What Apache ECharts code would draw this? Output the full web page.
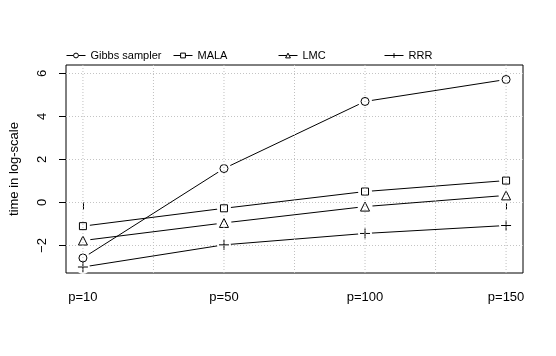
<!DOCTYPE html>
<html>
<head>
<meta charset="utf-8">
<script src="https://cdn.jsdelivr.net/npm/echarts@6/dist/echarts.min.js"></script>
<style>
  html, body { margin: 0; padding: 0; background: #fff; }
  #main { width: 556px; height: 356px; }
</style>
</head>
<body>
<div id="main"></div>
<script>
// data
var categories = ['p=10', 'p=50', 'p=100', 'p=150'];
var gibbs = [-2.58, 1.58, 4.70, 5.72];
var mala = [-1.10, -0.27, 0.51, 1.02];
var lmc = [-1.77, -0.95, -0.19, 0.33];
var rrr = [-3.00, -1.97, -1.44, -1.07];
var yTicks = [-2, 0, 2, 4, 6];
var xGridLines = [1, 1.5, 2, 2.5, 3, 3.5, 4];

var FONT = 'Liberation Sans';
var X_MIN = 0.88, X_MAX = 4.12, Y_MIN = -3.279, Y_MAX = 6.395;
var plusPath = 'path://M0,5L10,5M5,0L5,10';

var methods = [
    { name: 'Gibbs sampler', values: gibbs, symbol: 'circle', size: 8, gap: 14, left: 66 },
    { name: 'MALA', values: mala, symbol: 'rect', size: 7, gap: 14, left: 173 },
    { name: 'LMC', values: lmc, symbol: 'triangle', size: 9, gap: 15, left: 278 },
    { name: 'RRR', values: rrr, symbol: plusPath, size: 10, gap: 14, left: 384 }
];

function toPoints(values) {
    return categories.map(function (c, i) { return [i + 1, values[i]]; });
}

var series = [];
// dotted grid like R's grid(), drawn last as grid() is
xGridLines.forEach(function (v) {
    series.push({
        type: 'line', silent: true, symbol: 'none', z: 5,
        data: [[v, Y_MIN], [v, Y_MAX]],
        lineStyle: { color: '#c0c0c0', type: [1, 2], width: 1 }
    });
});
yTicks.forEach(function (v) {
    series.push({
        type: 'line', silent: true, symbol: 'none', z: 1,
        data: [[X_MIN, v], [X_MAX, v]],
        lineStyle: { color: '#c4c4c4', type: [1, 2], width: 1 }
    });
});
// lines (also used by the legend)
methods.forEach(function (m) {
    series.push({
        name: m.name,
        type: 'line',
        data: toPoints(m.values),
        symbol: m.symbol,
        symbolSize: m.size,
        lineStyle: { color: '#000', width: 1 },
        itemStyle: { color: '#fff', borderColor: '#000', borderWidth: 1 },
        z: 2,
        silent: true
    });
});
// white gaps round the points (type "b")
methods.forEach(function (m) {
    series.push({
        name: m.name + ' gap',
        type: 'scatter',
        data: toPoints(m.values),
        symbol: 'circle',
        symbolSize: m.gap,
        itemStyle: { color: '#ffffff', opacity: 1 },
        z: 3,
        silent: true
    });
});
// markers
methods.forEach(function (m) {
    series.push({
        name: m.name + ' pt',
        type: 'scatter',
        data: toPoints(m.values),
        symbol: m.symbol,
        symbolSize: m.size,
        itemStyle: { color: '#fff', opacity: 1, borderColor: '#000', borderWidth: 1 },
        z: 4,
        silent: true
    });
});

var chart = echarts.init(document.getElementById('main'));
chart.setOption({
    animation: false,
    textStyle: { fontFamily: FONT, color: '#000' },
    grid: {
        left: 65, right: 33, top: 65, bottom: 83,
        show: true, borderColor: '#000', borderWidth: 1, backgroundColor: 'transparent'
    },
    legend: methods.map(function (m) {
        return {
            data: [m.name],
            left: m.left,
            top: 50,
            itemWidth: 19,
            itemHeight: 6,
            selectedMode: false,
            padding: 0,
            lineStyle: { width: 1, color: '#000' },
            itemStyle: { color: '#fff', borderColor: '#000', borderWidth: 1 },
            textStyle: { fontFamily: FONT, fontSize: 11, color: '#000' }
        };
    }),
    xAxis: {
        type: 'value',
        min: X_MIN,
        max: X_MAX,
        axisLine: { show: false },
        splitLine: { show: false },
        axisTick: { show: true, customValues: [1, 2, 3, 4], length: 7, lineStyle: { color: '#000' } },
        axisLabel: {
            customValues: [1, 2, 3, 4],
            margin: 18,
            fontSize: 13,
            color: '#000',
            fontFamily: FONT,
            formatter: function (v) { return categories[Math.round(v) - 1]; }
        }
    },
    yAxis: {
        type: 'value',
        min: Y_MIN,
        max: Y_MAX,
        name: 'time in log-scale',
        nameLocation: 'middle',
        nameGap: 45,
        nameRotate: 90,
        nameTextStyle: { fontSize: 13, color: '#000', fontFamily: FONT },
        axisLine: { show: false },
        splitLine: { show: false },
        axisTick: { show: true, customValues: yTicks, length: 7, lineStyle: { color: '#000' } },
        axisLabel: {
            customValues: yTicks,
            rotate: 90,
            margin: 17,
            fontSize: 13,
            color: '#000',
            fontFamily: FONT,
            formatter: function (v) { return String(v).replace('-', '\u2212'); }
        }
    },
    series: series
});
</script>
</body>
</html>
